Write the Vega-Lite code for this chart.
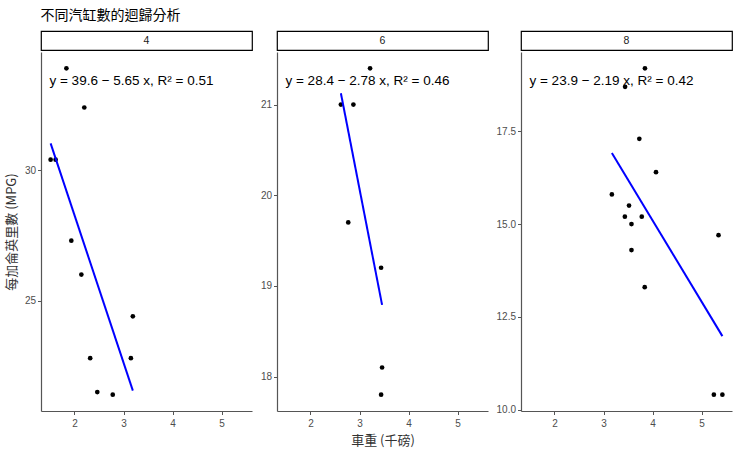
{
  "$schema": "https://vega.github.io/schema/vega-lite/v6.json",
  "background": "white",
  "padding": {"left": 5, "top": 9, "right": 5, "bottom": 5},
  "title": {"text": "不同汽缸數的迴歸分析", "anchor": "start", "font": "Noto Sans CJK TC", "fontSize": 14, "fontWeight": "normal", "color": "#000000", "offset": 7, "dx": 35},
  "datasets": {
    "cars": [
      {"cyl": "4", "wt": 2.32, "mpg": 22.8},
      {"cyl": "4", "wt": 3.19, "mpg": 24.4},
      {"cyl": "4", "wt": 3.15, "mpg": 22.8},
      {"cyl": "4", "wt": 2.2, "mpg": 32.4},
      {"cyl": "4", "wt": 1.615, "mpg": 30.4},
      {"cyl": "4", "wt": 1.835, "mpg": 33.9},
      {"cyl": "4", "wt": 2.465, "mpg": 21.5},
      {"cyl": "4", "wt": 1.935, "mpg": 27.3},
      {"cyl": "4", "wt": 2.14, "mpg": 26.0},
      {"cyl": "4", "wt": 1.513, "mpg": 30.4},
      {"cyl": "4", "wt": 2.78, "mpg": 21.4},
      {"cyl": "6", "wt": 2.62, "mpg": 21.0},
      {"cyl": "6", "wt": 2.875, "mpg": 21.0},
      {"cyl": "6", "wt": 3.215, "mpg": 21.4},
      {"cyl": "6", "wt": 3.46, "mpg": 18.1},
      {"cyl": "6", "wt": 3.44, "mpg": 19.2},
      {"cyl": "6", "wt": 3.44, "mpg": 17.8},
      {"cyl": "6", "wt": 2.77, "mpg": 19.7},
      {"cyl": "8", "wt": 3.44, "mpg": 18.7},
      {"cyl": "8", "wt": 3.57, "mpg": 14.3},
      {"cyl": "8", "wt": 4.07, "mpg": 16.4},
      {"cyl": "8", "wt": 3.73, "mpg": 17.3},
      {"cyl": "8", "wt": 3.78, "mpg": 15.2},
      {"cyl": "8", "wt": 5.25, "mpg": 10.4},
      {"cyl": "8", "wt": 5.424, "mpg": 10.4},
      {"cyl": "8", "wt": 5.345, "mpg": 14.7},
      {"cyl": "8", "wt": 3.52, "mpg": 15.5},
      {"cyl": "8", "wt": 3.435, "mpg": 15.2},
      {"cyl": "8", "wt": 3.84, "mpg": 13.3},
      {"cyl": "8", "wt": 3.845, "mpg": 19.2},
      {"cyl": "8", "wt": 3.17, "mpg": 15.8},
      {"cyl": "8", "wt": 3.57, "mpg": 15.0}
    ],
    "fits": [
      {"cyl": "4", "wt": 1.513, "mpg": 31.027},
      {"cyl": "4", "wt": 3.19, "mpg": 21.557},
      {"cyl": "6", "wt": 2.62, "mpg": 21.125},
      {"cyl": "6", "wt": 3.46, "mpg": 18.79},
      {"cyl": "8", "wt": 3.17, "mpg": 16.919},
      {"cyl": "8", "wt": 5.424, "mpg": 11.979}
    ],
    "labels": [
      {"cyl": "4", "wt": 1.49, "mpg": 33.42, "eq": "y = 39.6 − 5.65 x, R² = 0.51"},
      {"cyl": "6", "wt": 1.49, "mpg": 21.26, "eq": "y = 28.4 − 2.78 x, R² = 0.46"},
      {"cyl": "8", "wt": 1.49, "mpg": 18.86, "eq": "y = 23.9 − 2.19 x, R² = 0.42"}
    ],
    "strips": [{"cyl": "4"}, {"cyl": "6"}, {"cyl": "8"}]
  },
  "config": {
    "font": "Liberation Sans",
    "axis": {
      "grid": false,
      "domainColor": "#555555",
      "domainWidth": 1.2,
      "tickColor": "#555555",
      "tickSize": 3.5,
      "labelColor": "#4d4d4d",
      "labelFontSize": 10,
      "labelFont": "Liberation Sans",
      "labelPadding": 2,
      "titleFont": "Noto Sans CJK TC",
      "titleFontSize": 13,
      "titleFontWeight": "normal",
      "titleColor": "#333333"
    },
    "axisX": {"labelPadding": 4},
    "view": {"stroke": null}
  },
  "spacing": 7,
  "hconcat": [
    {
      "spacing": 1,
      "vconcat": [
        {
          "width": 211, "height": 19,
          "view": {"stroke": "#000000", "strokeWidth": 1.2, "fill": "white"},
          "data": {"name": "strips"},
          "transform": [{"filter": "datum.cyl == '4'"}],
          "mark": {"type": "text", "fontSize": 10.5, "color": "#1a1a1a", "baseline": "middle", "align": "center"},
          "encoding": {"text": {"field": "cyl"}}
        },
        {
          "width": 211, "height": 359,
          "layer": [
            {
              "data": {"name": "cars"},
              "transform": [{"filter": "datum.cyl == '4'"}],
              "mark": {"type": "point", "filled": true, "color": "#000000", "size": 22, "opacity": 1},
              "encoding": {
                "x": {"field": "wt", "type": "quantitative", "scale": {"domain": [1.317, 5.62], "nice": false, "zero": false}, "axis": {"values": [2, 3, 4, 5], "title": null}},
                "y": {"field": "mpg", "type": "quantitative", "scale": {"domain": [20.775, 34.525], "nice": false, "zero": false}, "axis": {"values": [25, 30], "title": "每加侖英里數 (MPG)", "titlePadding": 6}}
              }
            },
            {
              "data": {"name": "fits"},
              "transform": [{"filter": "datum.cyl == '4'"}],
              "mark": {"type": "line", "color": "#0000ff", "strokeWidth": 2},
              "encoding": {
                "x": {"field": "wt", "type": "quantitative"},
                "y": {"field": "mpg", "type": "quantitative"}
              }
            },
            {
              "data": {"name": "labels"},
              "transform": [{"filter": "datum.cyl == '4'"}],
              "mark": {"type": "text", "align": "left", "baseline": "middle", "fontSize": 13.5, "color": "#000000"},
              "encoding": {
                "x": {"field": "wt", "type": "quantitative"},
                "y": {"field": "mpg", "type": "quantitative"},
                "text": {"field": "eq"}
              }
            }
          ]
        }
      ]
    },
    {
      "spacing": 1,
      "vconcat": [
        {
          "width": 211, "height": 19,
          "view": {"stroke": "#000000", "strokeWidth": 1.2, "fill": "white"},
          "data": {"name": "strips"},
          "transform": [{"filter": "datum.cyl == '6'"}],
          "mark": {"type": "text", "fontSize": 10.5, "color": "#1a1a1a", "baseline": "middle", "align": "center"},
          "encoding": {"text": {"field": "cyl"}}
        },
        {
          "width": 211, "height": 359,
          "layer": [
            {
              "data": {"name": "cars"},
              "transform": [{"filter": "datum.cyl == '6'"}],
              "mark": {"type": "point", "filled": true, "color": "#000000", "size": 22, "opacity": 1},
              "encoding": {
                "x": {"field": "wt", "type": "quantitative", "scale": {"domain": [1.317, 5.62], "nice": false, "zero": false}, "axis": {"values": [2, 3, 4, 5], "title": "車重 (千磅)", "titlePadding": 6}},
                "y": {"field": "mpg", "type": "quantitative", "scale": {"domain": [17.62, 21.58], "nice": false, "zero": false}, "axis": {"values": [18, 19, 20, 21], "format": "d", "title": null}}
              }
            },
            {
              "data": {"name": "fits"},
              "transform": [{"filter": "datum.cyl == '6'"}],
              "mark": {"type": "line", "color": "#0000ff", "strokeWidth": 2},
              "encoding": {
                "x": {"field": "wt", "type": "quantitative"},
                "y": {"field": "mpg", "type": "quantitative"}
              }
            },
            {
              "data": {"name": "labels"},
              "transform": [{"filter": "datum.cyl == '6'"}],
              "mark": {"type": "text", "align": "left", "baseline": "middle", "fontSize": 13.5, "color": "#000000"},
              "encoding": {
                "x": {"field": "wt", "type": "quantitative"},
                "y": {"field": "mpg", "type": "quantitative"},
                "text": {"field": "eq"}
              }
            }
          ]
        }
      ]
    },
    {
      "spacing": 1,
      "vconcat": [
        {
          "width": 211, "height": 19,
          "view": {"stroke": "#000000", "strokeWidth": 1.2, "fill": "white"},
          "data": {"name": "strips"},
          "transform": [{"filter": "datum.cyl == '8'"}],
          "mark": {"type": "text", "fontSize": 10.5, "color": "#1a1a1a", "baseline": "middle", "align": "center"},
          "encoding": {"text": {"field": "cyl"}}
        },
        {
          "width": 211, "height": 359,
          "layer": [
            {
              "data": {"name": "cars"},
              "transform": [{"filter": "datum.cyl == '8'"}],
              "mark": {"type": "point", "filled": true, "color": "#000000", "size": 22, "opacity": 1},
              "encoding": {
                "x": {"field": "wt", "type": "quantitative", "scale": {"domain": [1.317, 5.62], "nice": false, "zero": false}, "axis": {"values": [2, 3, 4, 5], "title": null}},
                "y": {"field": "mpg", "type": "quantitative", "scale": {"domain": [9.96, 19.64], "nice": false, "zero": false}, "axis": {"values": [10, 12.5, 15, 17.5], "format": ".1f", "title": null}}
              }
            },
            {
              "data": {"name": "fits"},
              "transform": [{"filter": "datum.cyl == '8'"}],
              "mark": {"type": "line", "color": "#0000ff", "strokeWidth": 2},
              "encoding": {
                "x": {"field": "wt", "type": "quantitative"},
                "y": {"field": "mpg", "type": "quantitative"}
              }
            },
            {
              "data": {"name": "labels"},
              "transform": [{"filter": "datum.cyl == '8'"}],
              "mark": {"type": "text", "align": "left", "baseline": "middle", "fontSize": 13.5, "color": "#000000"},
              "encoding": {
                "x": {"field": "wt", "type": "quantitative"},
                "y": {"field": "mpg", "type": "quantitative"},
                "text": {"field": "eq"}
              }
            }
          ]
        }
      ]
    }
  ]
}
